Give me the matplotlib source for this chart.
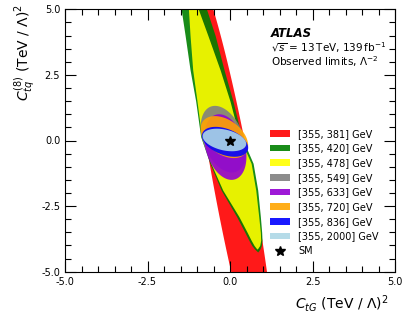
import numpy as np
import matplotlib
matplotlib.use("Agg")
import matplotlib.pyplot as plt
from matplotlib.ticker import MultipleLocator, FormatStrFormatter
from matplotlib.patches import Patch
from matplotlib.lines import Line2D

# ---- data -------------------------------------------------------------
labels = ["[355, 381] GeV", "[355, 420] GeV", "[355, 478] GeV", "[355, 549] GeV",
          "[355, 633] GeV", "[355, 720] GeV", "[355, 836] GeV", "[355, 2000] GeV"]
colors = ["red", "green", "yellow", "grey", "darkviolet", "orange", "blue", "lightblue"]

# wide bands: boundary profiles (y, x_left, x_right)
green_y  = [5.3, 5.0, 4.0, 2.69, 1.5, 0.15, -0.87, -1.89, -2.9, -3.5, -3.8, -4.0, -4.13, -4.25]
green_xl = [-1.52, -1.48, -1.36, -1.21, -1.04, -0.89, -0.61, -0.27, 0.20, 0.45, 0.57, 0.66, 0.74, 0.84]
green_xr = [-0.78, -0.71, -0.45, -0.18, 0.09, 0.35, 0.70, 0.84, 0.92, 0.96, 0.97, 0.95, 0.91, 0.84]

yellow_y  = [5.3, 5.0, 4.0, 2.69, 1.5, 0.15, -0.87, -1.89, -2.9, -3.5, -3.8, -4.0, -4.13]
yellow_xl = [-1.28, -1.26, -1.21, -1.13, -1.00, -0.86, -0.58, -0.22, 0.27, 0.52, 0.64, 0.73, 0.81]
yellow_xr = [-1.05, -0.96, -0.67, -0.30, 0.00, 0.28, 0.64, 0.78, 0.87, 0.92, 0.93, 0.90, 0.83]

# elliptical regions: centre (cx, cy), half-width w, half-height h, shear s
ell_names = ["red", "grey", "darkviolet", "orange", "blue", "lightblue"]
ell_cx = [0.07, -0.20, -0.14, -0.17, -0.15, -0.17]
ell_cy = [-1.5, 0.05, -0.25, 0.13, -0.05, 0.02]
ell_w  = [0.60, 0.64, 0.61, 0.66, 0.64, 0.62]
ell_h  = [8.2, 1.27, 1.25, 0.80, 0.57, 0.43]
ell_s  = [-0.145, -0.20, -0.15, -0.36, -0.50, -0.53]

sm_x, sm_y = [0.0], [0.0]

# ---- figure -----------------------------------------------------------
fig = plt.figure(figsize=(4.07, 3.17), dpi=100)
ax = fig.add_axes([65/407, 1-271.7/317, 330/407, 262.4/317])
ax.set_xlim(-5, 5)
ax.set_ylim(-5, 5)

alpha = 0.9
t = np.linspace(0, 2*np.pi, 400)

def draw_ell(name):
    i = ell_names.index(name)
    y = ell_cy[i] + ell_h[i]*np.sin(t)
    x = ell_cx[i] + ell_s[i]*ell_h[i]*np.sin(t) + ell_w[i]*np.cos(t)
    ax.fill(x, y, color=name, alpha=alpha, lw=0)

draw_ell("red")
ax.fill_betweenx(green_y, green_xl, green_xr, color="green", alpha=alpha, lw=0)
ax.fill_betweenx(yellow_y, yellow_xl, yellow_xr, color="yellow", alpha=alpha, lw=0)
for n in ["grey", "darkviolet", "orange", "blue", "lightblue"]:
    draw_ell(n)

ax.plot(sm_x, sm_y, marker="*", color="black", ms=7, ls="none")

# ticks
ax.xaxis.set_major_locator(MultipleLocator(2.5))
ax.yaxis.set_major_locator(MultipleLocator(2.5))
ax.xaxis.set_minor_locator(MultipleLocator(0.5))
ax.yaxis.set_minor_locator(MultipleLocator(0.5))
ax.tick_params(which="both", direction="in", top=True, right=True, labelsize=7, width=0.8)
ax.tick_params(which="major", length=8)
ax.tick_params(which="minor", length=4)
ax.xaxis.set_major_formatter(FormatStrFormatter("%.1f"))
ax.yaxis.set_major_formatter(FormatStrFormatter("%.1f"))
for sp in ax.spines.values():
    sp.set_linewidth(0.8)

ax.set_xlabel(r"$C_{tG}$ (TeV / $\Lambda$)$^2$", fontsize=10, loc="right")
ax.set_ylabel(r"$C_{tq}^{(8)}$ (TeV / $\Lambda$)$^2$", fontsize=10, loc="top")
ax.xaxis.set_label_coords(0.98, -0.08)
ax.yaxis.set_label_coords(-0.085, 1.02)

# text
ax.text(0.625, 0.906, "ATLAS", transform=ax.transAxes, fontsize=8.5,
        fontweight="bold", fontstyle="italic", va="center", ha="left")
ax.text(0.625, 0.855, r"$\sqrt{s}$ = 13$\,$TeV, 139$\,$fb$^{-1}$", transform=ax.transAxes,
        fontsize=7.5, va="center", ha="left")
ax.text(0.625, 0.802, r"Observed limits, $\Lambda^{-2}$", transform=ax.transAxes,
        fontsize=7.5, va="center", ha="left")

handles = [Patch(facecolor=c, alpha=alpha, lw=0) for c in colors]
handles.append(Line2D([], [], marker="*", color="black", ls="none", ms=7))
leg = ax.legend(handles, labels + ["SM"], loc="upper left", bbox_to_anchor=(0.621, 0.545),
                frameon=False, fontsize=7, labelspacing=0.48, handlelength=2.1,
                handletextpad=0.8, borderaxespad=0, borderpad=0)

fig.savefig("out.png", dpi=100)
